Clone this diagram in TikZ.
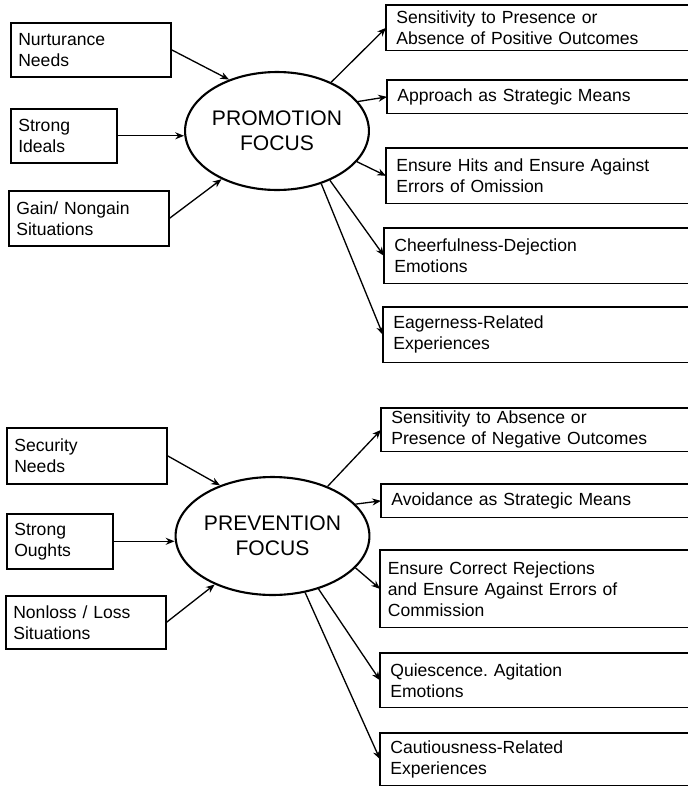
\documentclass[tikz,border=0pt]{standalone}
\usepackage{fontspec}
\setmainfont{Liberation Sans}
\usetikzlibrary{shapes.geometric,arrows.meta}
\frenchspacing

\begin{document}
\begin{tikzpicture}[x=0.02cm, y=-0.02cm, >={Stealth[length=5pt,width=4pt]},
  every node/.style={font=\fontsize{10}{12}\selectfont},
  box/.style={draw, line width=0.9pt, anchor=north west, align=left, inner xsep=0.15cm, inner ysep=0pt},
  rbox/.style={anchor=north west, align=left, inner xsep=0.2cm, inner ysep=0pt, text width=5.6cm},
  focus/.style={draw, ellipse, line width=1.2pt, inner sep=0pt, align=center, font=\fontsize{12}{14}\selectfont},
  link/.style={->, line width=0.75pt},
  open/.style={line width=0.9pt}]
\useasboundingbox (0,0) rectangle (688,788);
% promotion
\node[box, text width=2.9cm, minimum height=1.08cm] (nurt) at (10,22) {Nurturance\\Needs};
\node[box, text width=1.82cm, minimum height=1.08cm] (ideal) at (10,108) {Strong\\Ideals};
\node[box, text width=2.9cm, minimum height=1.1cm] (gain) at (8,190) {Gain/ Nongain\\Situations};
\node[focus, minimum width=3.36cm, minimum height=2.36cm] (promo) at (277,131) {PROMOTION\\FOCUS};
\node[rbox, minimum height=0.9cm] (s1) at (386,5) {Sensitivity to Presence or\\Absence of Positive Outcomes};
\node[rbox, minimum height=0.66cm] (s2) at (387,80) {Approach as Strategic Means};
\node[rbox, minimum height=1.1cm] (s3) at (386,148) {Ensure Hits and Ensure Against\\Errors of Omission};
\node[rbox, minimum height=1.1cm] (s4) at (384,228) {Cheerfulness-Dejection\\Emotions};
\node[rbox, minimum height=1.1cm] (s5) at (383,307) {Eagerness-Related\\Experiences};
\foreach \b in {s1,s2,s3,s4,s5} \draw[open] (\b.north west -| 688,0) -- (\b.north west) -- (\b.south west) -- (\b.south west -| 688,0);
\draw[link] (nurt.east)--(promo.133); \draw[link] (ideal.east)--(ideal.east -| promo.west); \draw[link] (gain.east)--(promo.221);
\draw[link] (promo.42)--(s1.west); \draw[link] (promo.20)--(s2.west); \draw[link] (promo.-21)--(s3.west); \draw[link] (promo.-43)--(s4.west); \draw[link] (promo.-50)--(s5.west);
% prevention
\node[box, text width=2.9cm, minimum height=1.12cm] (sec) at (6,427) {Security\\Needs};
\node[box, text width=1.82cm, minimum height=1.1cm] (ought) at (6,513) {Strong\\Oughts};
\node[box, text width=2.9cm, minimum height=1.06cm] (loss) at (5,595) {Nonloss / Loss\\Situations};
\node[focus, minimum width=3.3cm, minimum height=2.36cm] (prev) at (272.5,536) {PREVENTION\\FOCUS};
\node[rbox, minimum height=0.86cm] (t1) at (381,408) {Sensitivity to Absence or\\Presence of Negative Outcomes};
\node[rbox, minimum height=0.66cm] (t2) at (381,484) {Avoidance as Strategic Means};
\node[rbox, inner xsep=0.15cm, minimum height=1.54cm] (t3) at (380,550) {Ensure Correct Rejections\\and Ensure Against Errors of\\Commission};
\node[rbox, minimum height=1.08cm] (t4) at (380,653) {Quiescence. Agitation\\Emotions};
\node[rbox, minimum height=1.04cm] (t5) at (380,733) {Cautiousness-Related\\Experiences};
\foreach \b in {t1,t2,t3,t4,t5} \draw[open] (\b.north west -| 688,0) -- (\b.north west) -- (\b.south west) -- (\b.south west -| 688,0);
\draw[link] (sec.east)--(prev.136); \draw[link] (ought.east)--(ought.east -| prev.west); \draw[link] (loss.east)--(prev.220);
\draw[link] (prev.42)--(t1.west); \draw[link] (prev.21)--(t2.west); \draw[link] (prev.-21)--(t3.west); \draw[link] (prev.-49)--(t4.west); \draw[link] (prev.-60)--(t5.west);
\end{tikzpicture}
\end{document}
